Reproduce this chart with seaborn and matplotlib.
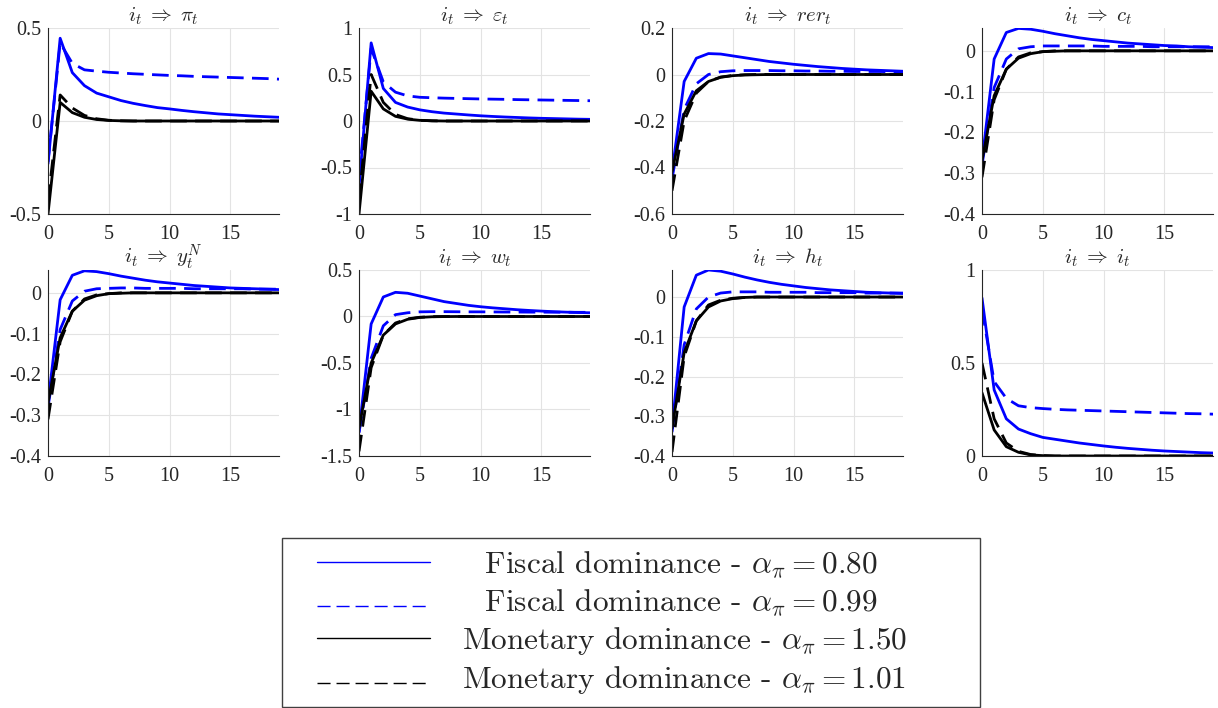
import numpy as np
import pandas as pd
import matplotlib
matplotlib.use("Agg")
import matplotlib.pyplot as plt
import seaborn as sns

# ---------------- data ----------------
horizon = list(range(20))

titles = [r"$i_t \;\Rightarrow\; \pi_t$", r"$i_t \;\Rightarrow\; \varepsilon_t$",
          r"$i_t \;\Rightarrow\; rer_t$", r"$i_t \;\Rightarrow\; c_t$",
          r"$i_t \;\Rightarrow\; y_t^N$", r"$i_t \;\Rightarrow\; w_t$",
          r"$i_t \;\Rightarrow\; h_t$", r"$i_t \;\Rightarrow\; i_t$"]

series_labels = [r"$\;\;\;$Fiscal dominance - $\alpha_\pi = 0.80$",
                 r"$\;\;\;$Fiscal dominance - $\alpha_\pi = 0.99$",
                 r"Monetary dominance - $\alpha_\pi = 1.50$",
                 r"Monetary dominance - $\alpha_\pi = 1.01$"]

# pi
pi_fd80 = [-0.23, 0.445, 0.26, 0.19, 0.15, 0.13, 0.11, 0.095, 0.083, 0.072, 0.065, 0.057, 0.050, 0.044, 0.038, 0.034, 0.030, 0.026, 0.023, 0.020]
pi_fd99 = [-0.22, 0.42, 0.31, 0.275, 0.268, 0.262, 0.258, 0.254, 0.251, 0.248, 0.245, 0.243, 0.240, 0.238, 0.236, 0.234, 0.232, 0.230, 0.228, 0.225]
pi_md150 = [-0.50, 0.10, 0.045, 0.02, 0.008, 0.003, 0.001, 0.0, 0.0, 0.0, 0.0, 0.0, 0.0, 0.0, 0.0, 0.0, 0.0, 0.0, 0.0, 0.0]
pi_md101 = [-0.43, 0.14, 0.07, 0.03, 0.012, 0.004, 0.001, 0.0, 0.0, 0.0, 0.0, 0.0, 0.0, 0.0, 0.0, 0.0, 0.0, 0.0, 0.0, 0.0]

# epsilon
eps_fd80 = [-0.71, 0.84, 0.35, 0.20, 0.15, 0.12, 0.10, 0.085, 0.075, 0.065, 0.056, 0.049, 0.043, 0.038, 0.033, 0.029, 0.026, 0.023, 0.020, 0.018]
eps_fd99 = [-0.62, 0.78, 0.42, 0.31, 0.27, 0.255, 0.250, 0.246, 0.243, 0.240, 0.237, 0.235, 0.233, 0.230, 0.228, 0.226, 0.224, 0.222, 0.220, 0.218]
eps_md150 = [-1.0, 0.32, 0.13, 0.05, 0.02, 0.007, 0.002, 0.0, 0.0, 0.0, 0.0, 0.0, 0.0, 0.0, 0.0, 0.0, 0.0, 0.0, 0.0, 0.0]
eps_md101 = [-0.85, 0.50, 0.20, 0.07, 0.025, 0.008, 0.002, 0.0, 0.0, 0.0, 0.0, 0.0, 0.0, 0.0, 0.0, 0.0, 0.0, 0.0, 0.0, 0.0]

# rer
rer_fd80 = [-0.42, -0.03, 0.07, 0.09, 0.088, 0.080, 0.072, 0.064, 0.056, 0.050, 0.044, 0.039, 0.034, 0.030, 0.026, 0.023, 0.020, 0.018, 0.016, 0.014]
rer_fd99 = [-0.45, -0.15, -0.04, 0.0, 0.012, 0.016, 0.017, 0.017, 0.017, 0.016, 0.016, 0.015, 0.015, 0.014, 0.014, 0.013, 0.013, 0.013, 0.012, 0.012]
rer_md150 = [-0.42, -0.17, -0.07, -0.03, -0.012, -0.005, -0.002, -0.001, 0.0, 0.0, 0.0, 0.0, 0.0, 0.0, 0.0, 0.0, 0.0, 0.0, 0.0, 0.0]
rer_md101 = [-0.50, -0.20, -0.08, -0.03, -0.011, -0.004, -0.001, 0.0, 0.0, 0.0, 0.0, 0.0, 0.0, 0.0, 0.0, 0.0, 0.0, 0.0, 0.0, 0.0]

# c
c_fd80 = [-0.27, -0.02, 0.045, 0.055, 0.053, 0.048, 0.042, 0.037, 0.032, 0.028, 0.025, 0.022, 0.019, 0.017, 0.015, 0.013, 0.012, 0.010, 0.009, 0.008]
c_fd99 = [-0.28, -0.09, -0.02, 0.005, 0.010, 0.012, 0.012, 0.012, 0.012, 0.012, 0.011, 0.011, 0.011, 0.011, 0.010, 0.010, 0.010, 0.010, 0.010, 0.010]
c_md150 = [-0.27, -0.11, -0.045, -0.018, -0.007, -0.002, -0.001, 0.0, 0.0, 0.0, 0.0, 0.0, 0.0, 0.0, 0.0, 0.0, 0.0, 0.0, 0.0, 0.0]
c_md101 = [-0.31, -0.12, -0.045, -0.015, -0.005, -0.002, 0.0, 0.0, 0.0, 0.0, 0.0, 0.0, 0.0, 0.0, 0.0, 0.0, 0.0, 0.0, 0.0, 0.0]

# yN
yn_fd80 = [-0.27, -0.017, 0.043, 0.054, 0.052, 0.047, 0.041, 0.036, 0.031, 0.027, 0.024, 0.021, 0.018, 0.016, 0.014, 0.012, 0.011, 0.010, 0.009, 0.008]
yn_fd99 = [-0.28, -0.09, -0.02, 0.004, 0.010, 0.011, 0.012, 0.012, 0.011, 0.011, 0.011, 0.011, 0.010, 0.010, 0.010, 0.010, 0.010, 0.009, 0.009, 0.009]
yn_md150 = [-0.27, -0.11, -0.045, -0.018, -0.007, -0.002, -0.001, 0.0, 0.0, 0.0, 0.0, 0.0, 0.0, 0.0, 0.0, 0.0, 0.0, 0.0, 0.0, 0.0]
yn_md101 = [-0.31, -0.12, -0.045, -0.015, -0.005, -0.002, 0.0, 0.0, 0.0, 0.0, 0.0, 0.0, 0.0, 0.0, 0.0, 0.0, 0.0, 0.0, 0.0, 0.0]

# w
w_fd80 = [-1.24, -0.08, 0.21, 0.26, 0.25, 0.22, 0.19, 0.16, 0.14, 0.12, 0.105, 0.093, 0.083, 0.073, 0.065, 0.058, 0.052, 0.047, 0.043, 0.040]
w_fd99 = [-1.25, -0.45, -0.10, 0.02, 0.04, 0.05, 0.052, 0.052, 0.051, 0.050, 0.050, 0.049, 0.048, 0.048, 0.047, 0.047, 0.046, 0.046, 0.045, 0.045]
w_md150 = [-1.20, -0.50, -0.20, -0.08, -0.03, -0.01, -0.003, -0.001, 0.0, 0.0, 0.0, 0.0, 0.0, 0.0, 0.0, 0.0, 0.0, 0.0, 0.0, 0.0]
w_md101 = [-1.45, -0.55, -0.20, -0.07, -0.025, -0.008, -0.002, 0.0, 0.0, 0.0, 0.0, 0.0, 0.0, 0.0, 0.0, 0.0, 0.0, 0.0, 0.0, 0.0]

# h
h_fd80 = [-0.33, -0.025, 0.055, 0.068, 0.065, 0.058, 0.050, 0.043, 0.037, 0.032, 0.028, 0.024, 0.021, 0.018, 0.016, 0.014, 0.012, 0.011, 0.010, 0.009]
h_fd99 = [-0.34, -0.12, -0.03, 0.0, 0.010, 0.013, 0.013, 0.013, 0.012, 0.012, 0.012, 0.012, 0.011, 0.011, 0.011, 0.011, 0.010, 0.010, 0.010, 0.010]
h_md150 = [-0.33, -0.14, -0.06, -0.025, -0.010, -0.004, -0.001, 0.0, 0.0, 0.0, 0.0, 0.0, 0.0, 0.0, 0.0, 0.0, 0.0, 0.0, 0.0, 0.0]
h_md101 = [-0.39, -0.15, -0.06, -0.02, -0.008, -0.003, -0.001, 0.0, 0.0, 0.0, 0.0, 0.0, 0.0, 0.0, 0.0, 0.0, 0.0, 0.0, 0.0, 0.0]

# i
i_fd80 = [0.85, 0.355, 0.20, 0.145, 0.12, 0.10, 0.09, 0.08, 0.07, 0.062, 0.054, 0.047, 0.041, 0.036, 0.031, 0.027, 0.024, 0.021, 0.018, 0.016]
i_fd99 = [0.79, 0.40, 0.31, 0.27, 0.26, 0.255, 0.251, 0.248, 0.246, 0.244, 0.242, 0.240, 0.238, 0.236, 0.234, 0.232, 0.230, 0.228, 0.227, 0.225]
i_md150 = [0.34, 0.14, 0.05, 0.02, 0.006, 0.002, 0.0, 0.0, 0.0, 0.0, 0.0, 0.0, 0.0, 0.0, 0.0, 0.0, 0.0, 0.0, 0.0, 0.0]
i_md101 = [0.50, 0.20, 0.07, 0.025, 0.008, 0.002, 0.0, 0.0, 0.0, 0.0, 0.0, 0.0, 0.0, 0.0, 0.0, 0.0, 0.0, 0.0, 0.0, 0.0]

panel_series = [
    [pi_fd80, pi_fd99, pi_md150, pi_md101],
    [eps_fd80, eps_fd99, eps_md150, eps_md101],
    [rer_fd80, rer_fd99, rer_md150, rer_md101],
    [c_fd80, c_fd99, c_md150, c_md101],
    [yn_fd80, yn_fd99, yn_md150, yn_md101],
    [w_fd80, w_fd99, w_md150, w_md101],
    [h_fd80, h_fd99, h_md150, h_md101],
    [i_fd80, i_fd99, i_md150, i_md101],
]

y_limits = [(-0.5, 0.5), (-1, 1), (-0.6, 0.2), (-0.4, 0.056),
            (-0.4, 0.056), (-1.5, 0.5), (-0.4, 0.068), (0, 1)]
y_ticks = [[-0.5, 0, 0.5], [-1, -0.5, 0, 0.5, 1], [-0.6, -0.4, -0.2, 0, 0.2],
           [-0.4, -0.3, -0.2, -0.1, 0], [-0.4, -0.3, -0.2, -0.1, 0],
           [-1.5, -1, -0.5, 0, 0.5], [-0.4, -0.3, -0.2, -0.1, 0], [0, 0.5, 1]]
x_ticks = [0, 5, 10, 15]

# ---------------- style ----------------
sns.set_style("white")
plt.rcParams["font.family"] = ["Liberation Serif", "DejaVu Serif"]
plt.rcParams["mathtext.fontset"] = "cm"
plt.rcParams["axes.unicode_minus"] = False

colors = ["#0000ff", "#0000ff", "#000000", "#000000"]
styles = ["-", (0, (6, 3)), "-", (0, (6, 3))]

W, H = 1218, 708
PX2PT = 0.72
fig = plt.figure(figsize=(W / 100, H / 100), dpi=100)

col_left = [48, 359, 672, 982]
row_top = [28, 270]
ax_w, ax_h = 231, 186

handles = None
for k in range(8):
    r, c = divmod(k, 4)
    ax = fig.add_axes([col_left[c] / W, 1 - (row_top[r] + ax_h) / H, ax_w / W, ax_h / H])
    for s in range(4):
        df = pd.DataFrame({"t": horizon, "v": panel_series[k][s]})
        sns.lineplot(data=df, x="t", y="v", ax=ax, color=colors[s],
                     linestyle=styles[s], linewidth=2.0, label=series_labels[s],
                     legend=False)
    ax.set_xlim(0, 19)
    ax.set_ylim(*y_limits[k])
    ax.set_xticks(x_ticks)
    ax.set_yticks(y_ticks[k])
    ax.set_xticklabels([f"{v:g}" for v in x_ticks])
    ax.set_yticklabels([f"{v:g}" for v in y_ticks[k]])
    ax.set_xlabel("")
    ax.set_ylabel("")
    ax.grid(True, color="#e3e3e3", linewidth=0.8)
    ax.set_axisbelow(True)
    for sp in ["top", "right"]:
        ax.spines[sp].set_visible(False)
    for sp in ["left", "bottom"]:
        ax.spines[sp].set_color("#262626")
        ax.spines[sp].set_linewidth(0.8)
    ax.tick_params(direction="in", length=3, width=0.6, colors="#262626",
                   labelsize=14.5, labelcolor="#262626")
    ax.tick_params(axis="x", pad=8)
    ax.tick_params(axis="y", pad=5)
    ax.set_title(titles[k], fontsize=15, pad=5, color="#262626")
    if k == 0:
        handles = ax.get_lines()[:4]

fs = 22.5
fs_px = fs / PX2PT
bpad = 0.35
line_start_px = 317 - (282 + bpad * fs_px)
handle_w_px = 430 - (282 + bpad * fs_px)

leg = fig.legend(handles, series_labels,
                 loc="lower left",
                 bbox_to_anchor=(282 / W, 1 - 707 / H, 698 / W, 172 / H),
                 mode="expand", ncol=1,
                 prop={"family": "cmr10", "size": fs},
                 frameon=True, fancybox=False, edgecolor="#404040",
                 framealpha=1, borderaxespad=0, borderpad=bpad,
                 handlelength=handle_w_px / fs_px,
                 handletextpad=(462 - 430) / fs_px, labelspacing=0.23)
leg.get_frame().set_linewidth(1.0)
for idx, hnd in enumerate(leg.legend_handles):
    hnd.set_linewidth(1.0)
    xd = np.asarray(hnd.get_xdata(), dtype=float)
    yd = np.asarray(hnd.get_ydata(), dtype=float)
    new_x = np.linspace(xd[0] + line_start_px * PX2PT, xd[-1], len(xd))
    if idx % 2 == 1:
        hnd.set_data(new_x, yd - 6 * PX2PT)
        hnd.set_linestyle((0, (9.4, 4.3)))
    else:
        hnd.set_data(new_x, yd)
        hnd.set_linestyle("-")

fig.savefig("out.png", dpi=100)
